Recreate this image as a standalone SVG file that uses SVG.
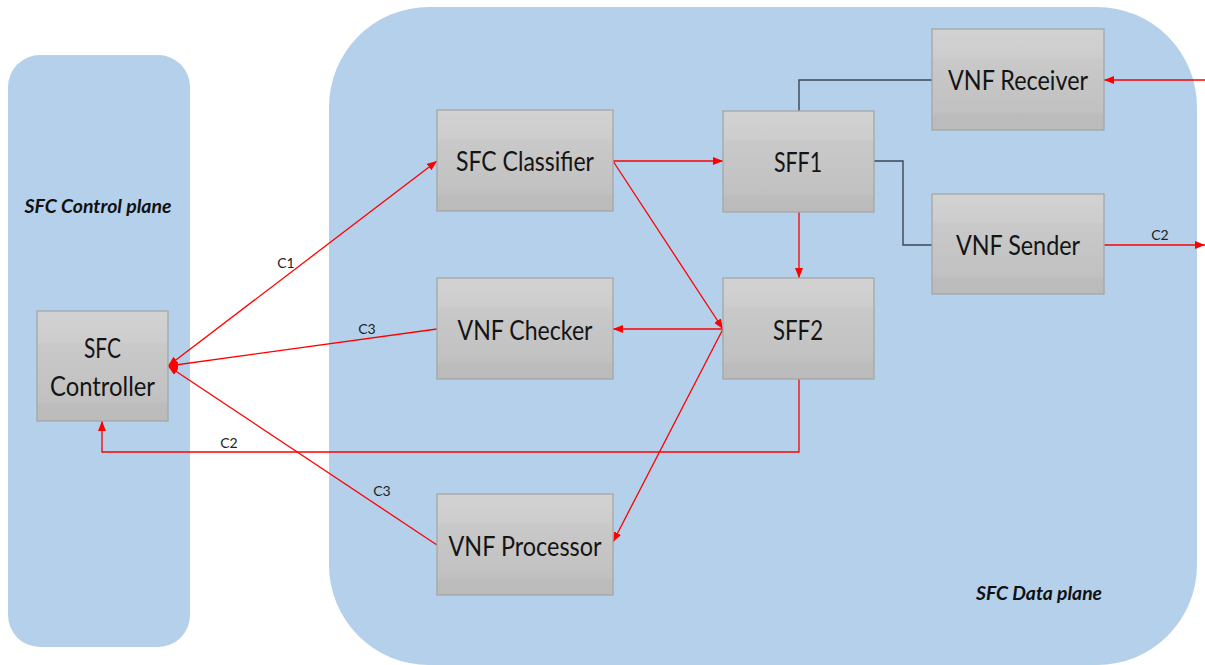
<svg xmlns="http://www.w3.org/2000/svg" width="1205" height="665" viewBox="0 0 1205 665">
<defs>
  <linearGradient id="boxg" x1="0" y1="0" x2="0" y2="1">
    <stop offset="0" stop-color="#d2d2d2"/>
    <stop offset="0.28" stop-color="#cdcdcd"/>
    <stop offset="0.3" stop-color="#c9c9c9"/>
    <stop offset="0.82" stop-color="#c1c1c1"/>
    <stop offset="0.85" stop-color="#bcbcbc"/>
    <stop offset="1" stop-color="#bbbbbb"/>
  </linearGradient>
  <marker id="ah" viewBox="0 0 10 8" refX="10" refY="4" markerWidth="10" markerHeight="8" markerUnits="userSpaceOnUse" orient="auto-start-reverse">
    <path d="M0,0 L10,4 L0,8 z" fill="#ff0000"/>
  </marker>
</defs>
<style>
  .plane{fill:#b4d0ea;}
  .box{fill:url(#boxg);stroke:#a6a6a6;stroke-width:1.3;}
  .lbl{font-family:Lato,"Open Sans",sans-serif;font-size:26px;fill:#141414;text-anchor:middle;dominant-baseline:central;}
  .plbl{font-family:Lato,"Open Sans",sans-serif;font-size:18px;font-weight:bold;font-style:italic;fill:#111;text-anchor:middle;dominant-baseline:central;}
  .clbl{font-family:Lato,"Open Sans",sans-serif;font-size:14px;fill:#222;text-anchor:middle;dominant-baseline:central;}
  .red{fill:none;stroke:#ff0000;stroke-width:1.3;}
  .dark{fill:none;stroke:#3b4658;stroke-width:1.4;}
</style>

<g id="control-plane">
  <rect class="plane" x="8" y="55" width="182" height="592" rx="32"/>
  <text class="plbl" x="98" y="206" textLength="147" lengthAdjust="spacingAndGlyphs">SFC Control plane</text>
</g>
<g id="data-plane">
  <rect class="plane" x="329" y="7" width="868" height="658" rx="100"/>
  <text class="plbl" x="1039" y="593" textLength="126" lengthAdjust="spacingAndGlyphs">SFC Data plane</text>
</g>

<g id="connectors">
  <line class="red" x1="613" y1="161" x2="723" y2="161" marker-end="url(#ah)"/>
  <line class="red" x1="613" y1="161" x2="723" y2="329" marker-end="url(#ah)"/>
  <line class="red" x1="799" y1="212" x2="799" y2="278" marker-end="url(#ah)"/>
  <line class="red" x1="723" y1="329" x2="613" y2="329" marker-end="url(#ah)"/>
  <line class="red" x1="723" y1="329" x2="613" y2="542" marker-end="url(#ah)"/>
  <polyline class="dark" points="799,111 799,80 932,80"/>
  <polyline class="dark" points="874,161 903,161 903,245 932,245"/>
  <line class="red" x1="1205" y1="80" x2="1104" y2="80" marker-end="url(#ah)"/>
  <line class="red" x1="1104" y1="245" x2="1205" y2="245" marker-end="url(#ah)"/>
  <line class="red" x1="168" y1="366" x2="437" y2="161" marker-start="url(#ah)" marker-end="url(#ah)"/>
  <line class="red" x1="437" y1="329" x2="168" y2="366" marker-end="url(#ah)"/>
  <line class="red" x1="437" y1="545" x2="168" y2="366" marker-end="url(#ah)"/>
  <polyline class="red" points="799,379 799,452 102,452 102,421" marker-end="url(#ah)"/>
  <text class="clbl" x="286" y="262">C1</text>
  <text class="clbl" x="367" y="328">C3</text>
  <text class="clbl" x="382" y="490">C3</text>
  <text class="clbl" x="229" y="442">C2</text>
  <text class="clbl" x="1160" y="234">C2</text>
</g>

<g id="sfc-controller">
  <rect class="box" x="37" y="311" width="131" height="110"/>
  <text class="lbl" x="102.5" y="348" textLength="37" lengthAdjust="spacingAndGlyphs">SFC</text>
  <text class="lbl" x="102.5" y="386" textLength="105" lengthAdjust="spacingAndGlyphs">Controller</text>
</g>
<g id="sfc-classifier">
  <rect class="box" x="437" y="110" width="176" height="101"/>
  <text class="lbl" x="525" y="161" textLength="138" lengthAdjust="spacingAndGlyphs">SFC Classifier</text>
</g>
<g id="sff1">
  <rect class="box" x="723" y="111" width="151" height="101"/>
  <text class="lbl" x="798" y="162" textLength="48" lengthAdjust="spacingAndGlyphs">SFF1</text>
</g>
<g id="vnf-receiver">
  <rect class="box" x="932" y="29" width="172" height="101"/>
  <text class="lbl" x="1018" y="80" textLength="140" lengthAdjust="spacingAndGlyphs">VNF Receiver</text>
</g>
<g id="vnf-sender">
  <rect class="box" x="932" y="194" width="172" height="100"/>
  <text class="lbl" x="1018" y="245" textLength="124" lengthAdjust="spacingAndGlyphs">VNF Sender</text>
</g>
<g id="vnf-checker">
  <rect class="box" x="437" y="278" width="176" height="101"/>
  <text class="lbl" x="525" y="330" textLength="135" lengthAdjust="spacingAndGlyphs">VNF Checker</text>
</g>
<g id="sff2">
  <rect class="box" x="723" y="278" width="151" height="101"/>
  <text class="lbl" x="798" y="330" textLength="50" lengthAdjust="spacingAndGlyphs">SFF2</text>
</g>
<g id="vnf-processor">
  <rect class="box" x="437" y="494" width="176" height="101"/>
  <text class="lbl" x="525" y="546" textLength="153" lengthAdjust="spacingAndGlyphs">VNF Processor</text>
</g>
</svg>
